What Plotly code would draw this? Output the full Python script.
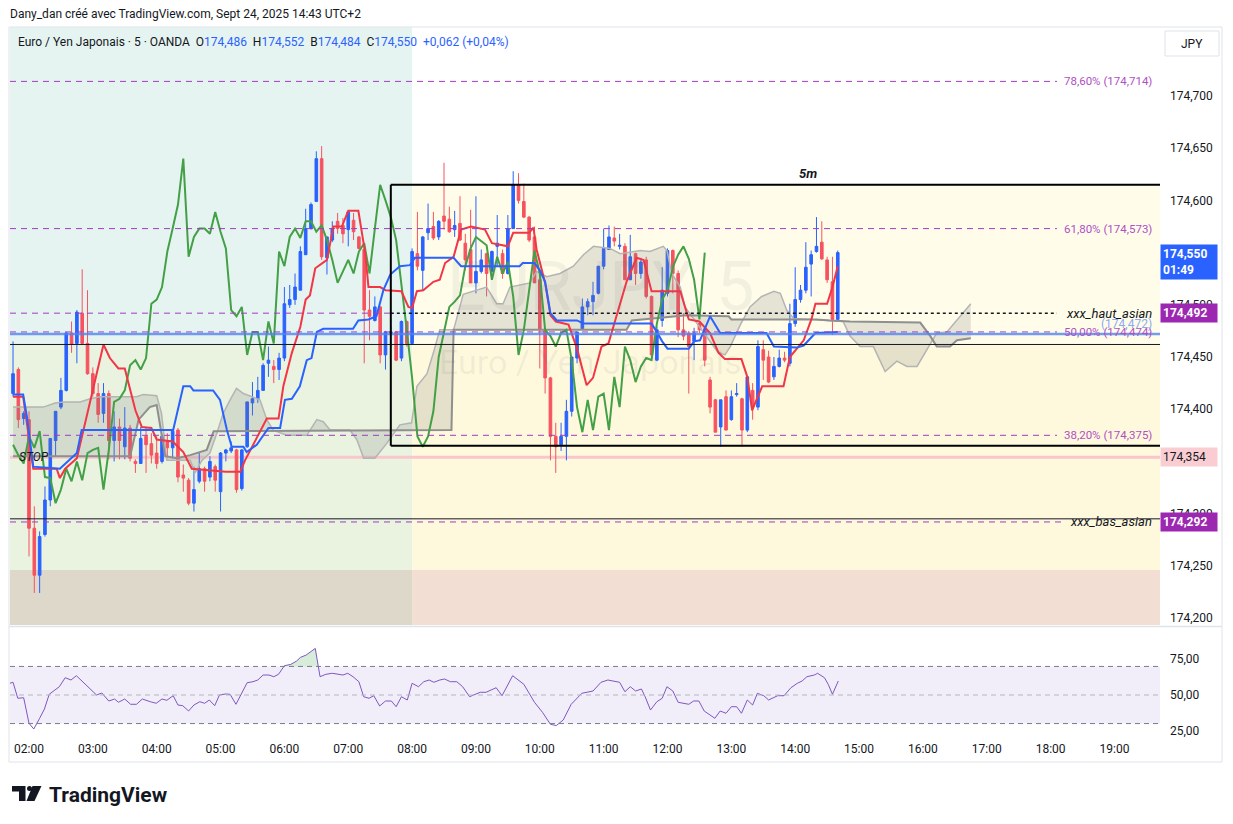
import numpy as np
import pandas as pd
import plotly.graph_objects as go

# EUR/JPY 5 min, OANDA - sept 24 2025
FONT = "Roboto, Noto Sans, sans-serif"
t0 = pd.Timestamp("2025-09-24 01:45")

opens = [174.415, 174.438, 174.391, 174.390, 174.286, 174.241, 174.280, 174.313, 174.370, 174.402,
         174.418, 174.473, 174.463, 174.492, 174.463, 174.434, 174.415, 174.396, 174.415, 174.370,
         174.383, 174.364, 174.382, 174.350, 174.348, 174.374, 174.367, 174.358, 174.350, 174.369,
         174.363, 174.380, 174.337, 174.332, 174.310, 174.331, 174.343, 174.335, 174.345, 174.321,
         174.358, 174.360, 174.361, 174.324, 174.364, 174.406, 174.410, 174.418, 174.444, 174.441,
         174.438, 174.449, 174.500, 174.505, 174.514, 174.548, 174.573, 174.599, 174.640, 174.545,
         174.562, 174.580, 174.576, 174.572, 174.581, 174.565, 174.553, 174.495, 174.485, 174.498,
         174.452, 174.473, 174.474, 174.449, 174.484, 174.463, 174.549, 174.533, 174.569, 174.575,
         174.565, 174.585, 174.582, 174.572, 174.578, 174.559, 174.553, 174.521, 174.532, 174.549,
         174.532, 174.556, 174.549, 174.530, 174.573, 174.615, 174.599, 174.584, 174.565, 174.524,
         174.476, 174.430, 174.374, 174.366, 174.374, 174.398, 174.449, 174.477, 174.498, 174.503,
         174.511, 174.537, 174.553, 174.564, 174.556, 174.556, 174.524, 174.549, 174.530, 174.543,
         174.508, 174.447, 174.485, 174.511, 174.552, 174.530, 174.476, 174.473, 174.465, 174.482,
         174.477, 174.428, 174.409, 174.383, 174.412, 174.390, 174.414, 174.410, 174.380, 174.418,
         174.402, 174.457, 174.450, 174.431, 174.441, 174.449, 174.444, 174.482, 174.505, 174.514,
         174.539, 174.551, 174.560, 174.543, 174.522, 174.486]
highs = [174.465, 174.440, 174.398, 174.398, 174.307, 174.283, 174.326, 174.372, 174.398, 174.430,
         174.474, 174.484, 174.495, 174.534, 174.514, 174.440, 174.425, 174.425, 174.418, 174.398,
         174.391, 174.402, 174.385, 174.352, 174.383, 174.383, 174.377, 174.374, 174.376, 174.377,
         174.380, 174.382, 174.347, 174.334, 174.345, 174.359, 174.345, 174.355, 174.347, 174.359,
         174.362, 174.369, 174.362, 174.362, 174.407, 174.426, 174.431, 174.444, 174.460, 174.447,
         174.454, 174.517, 174.519, 174.530, 174.556, 174.592, 174.598, 174.647, 174.652, 174.565,
         174.580, 174.588, 174.583, 174.589, 174.588, 174.566, 174.554, 174.514, 174.508, 174.499,
         174.475, 174.480, 174.475, 174.485, 174.485, 174.554, 174.589, 174.566, 174.597, 174.589,
         174.581, 174.636, 174.594, 174.590, 174.604, 174.568, 174.591, 174.604, 174.553, 174.550,
         174.552, 174.586, 174.553, 174.586, 174.628, 174.626, 174.616, 174.585, 174.575, 174.530,
         174.477, 174.431, 174.387, 174.387, 174.409, 174.450, 174.474, 174.506, 174.506, 174.522,
         174.537, 174.573, 174.576, 174.575, 174.568, 174.559, 174.567, 174.550, 174.545, 174.546,
         174.509, 174.479, 174.536, 174.554, 174.553, 174.533, 174.492, 174.475, 174.478, 174.484,
         174.479, 174.431, 174.410, 174.409, 174.418, 174.418, 174.425, 174.411, 174.431, 174.425,
         174.466, 174.466, 174.456, 174.450, 174.457, 174.455, 174.501, 174.536, 174.519, 174.560,
         174.552, 174.584, 174.580, 174.546, 174.546, 174.552]
lows = [174.412, 174.382, 174.385, 174.259, 174.224, 174.224, 174.278, 174.307, 174.355, 174.400,
        174.417, 174.454, 174.444, 174.463, 174.433, 174.412, 174.387, 174.387, 174.352, 174.350,
        174.352, 174.352, 174.350, 174.339, 174.348, 174.339, 174.348, 174.343, 174.348, 174.354,
        174.353, 174.330, 174.321, 174.308, 174.302, 174.329, 174.321, 174.331, 174.321, 174.302,
        174.350, 174.358, 174.320, 174.322, 174.363, 174.394, 174.406, 174.418, 174.431, 174.425,
        174.428, 174.446, 174.497, 174.500, 174.514, 174.548, 174.572, 174.599, 174.543, 174.529,
        174.560, 174.568, 174.559, 174.556, 174.562, 174.553, 174.444, 174.466, 174.484, 174.444,
        174.438, 174.460, 174.446, 174.446, 174.460, 174.462, 174.533, 174.514, 174.562, 174.562,
        174.562, 174.572, 174.569, 174.565, 174.561, 174.533, 174.521, 174.511, 174.530, 174.508,
        174.530, 174.537, 174.525, 174.529, 174.573, 174.597, 174.583, 174.560, 174.521, 174.439,
        174.415, 174.351, 174.339, 174.360, 174.351, 174.393, 174.444, 174.476, 174.490, 174.490,
        174.510, 174.534, 174.553, 174.556, 174.553, 174.524, 174.524, 174.519, 174.525, 174.506,
        174.450, 174.446, 174.479, 174.508, 174.511, 174.469, 174.466, 174.415, 174.447, 174.473,
        174.441, 174.396, 174.378, 174.364, 174.380, 174.389, 174.412, 174.364, 174.378, 174.390,
        174.399, 174.428, 174.425, 174.428, 174.440, 174.445, 174.441, 174.479, 174.502, 174.511,
        174.508, 174.550, 174.543, 174.521, 174.471, 174.484]
closes = [174.434, 174.390, 174.396, 174.286, 174.241, 174.278, 174.313, 174.372, 174.398, 174.418,
          174.473, 174.462, 174.493, 174.463, 174.434, 174.415, 174.395, 174.415, 174.370, 174.383,
          174.370, 174.382, 174.353, 174.348, 174.372, 174.366, 174.356, 174.348, 174.374, 174.363,
          174.379, 174.335, 174.334, 174.310, 174.323, 174.343, 174.331, 174.350, 174.332, 174.358,
          174.361, 174.363, 174.323, 174.361, 174.407, 174.410, 174.418, 174.442, 174.447, 174.438,
          174.449, 174.501, 174.505, 174.517, 174.551, 174.573, 174.596, 174.640, 174.546, 174.565,
          174.573, 174.573, 174.568, 174.589, 174.570, 174.554, 174.495, 174.489, 174.498, 174.452,
          174.474, 174.474, 174.447, 174.484, 174.463, 174.551, 174.537, 174.565, 174.573, 174.564,
          174.580, 174.580, 174.570, 174.576, 174.562, 174.543, 174.521, 174.532, 174.543, 174.530,
          174.551, 174.559, 174.530, 174.573, 174.615, 174.600, 174.584, 174.562, 174.521, 174.476,
          174.430, 174.374, 174.364, 174.374, 174.398, 174.450, 174.474, 174.498, 174.503, 174.509,
          174.537, 174.554, 174.565, 174.561, 174.557, 174.524, 174.546, 174.530, 174.541, 174.508,
          174.452, 174.476, 174.514, 174.552, 174.530, 174.476, 174.470, 174.460, 174.473, 174.476,
          174.447, 174.402, 174.378, 174.409, 174.380, 174.412, 174.415, 174.380, 174.431, 174.402,
          174.460, 174.447, 174.426, 174.441, 174.449, 174.447, 174.482, 174.505, 174.514, 174.536,
          174.548, 174.556, 174.544, 174.524, 174.486, 174.550]

# ichimoku lines: (bar index, price)
tenkan = [(0, 174.412), (1.9, 174.412), (3.8, 174.343), (8.2, 174.343), (8.8, 174.334), (9.8, 174.343),
          (12, 174.353), (13.8, 174.393), (15.7, 174.434), (17, 174.462), (18.2, 174.449), (19.8, 174.439),
          (21, 174.439), (23, 174.399), (24.2, 174.383), (26, 174.382), (27, 174.371), (30, 174.369),
          (32, 174.359), (33.6, 174.343), (40, 174.340), (42.7, 174.340), (43.6, 174.351), (47.7, 174.391),
          (49.9, 174.391), (50.8, 174.422), (52.4, 174.454), (54, 174.479), (55, 174.505), (55.8, 174.509),
          (56.8, 174.535), (59, 174.543), (60.2, 174.575), (61.8, 174.575), (63, 174.590), (64.9, 174.590),
          (66.2, 174.549), (66.8, 174.517), (69, 174.517), (70, 174.514), (73, 174.513), (74.3, 174.498),
          (75, 174.497), (75.9, 174.513), (77.1, 174.514), (79, 174.522), (80.2, 174.524), (81.2, 174.540),
          (82.8, 174.546), (84.2, 174.572), (86.1, 174.575), (88.7, 174.572), (90, 174.559), (93, 174.556),
          (94, 174.569), (97, 174.569), (97.8, 174.574), (98.4, 174.553), (100, 174.521), (101, 174.490),
          (102, 174.484), (104.4, 174.481), (106, 174.458), (107.8, 174.423), (109, 174.430), (110.6, 174.460),
          (111.9, 174.463), (113.5, 174.490), (115.3, 174.522), (117.2, 174.545), (118.5, 174.543),
          (120, 174.513), (125.4, 174.513), (127, 174.486), (129, 174.484), (131, 174.473), (132.6, 174.454),
          (133.8, 174.448), (136.9, 174.448), (138, 174.431), (138.9, 174.399), (139.8, 174.410),
          (140.8, 174.422), (144.8, 174.422), (146, 174.450), (148.6, 174.466), (150.1, 174.487),
          (150.8, 174.501), (153, 174.501), (154, 174.517), (155, 174.537)]
kijun = [(0, 174.414), (1.9, 174.414), (2.6, 174.393), (3.8, 174.345), (8.8, 174.343), (10.4, 174.351),
         (12, 174.358), (12.9, 174.380), (30.1, 174.380), (32, 174.422), (33.3, 174.422), (33.9, 174.418),
         (37.6, 174.418), (38.9, 174.409), (40.2, 174.380), (41.1, 174.364), (43.3, 174.364), (43.9, 174.359),
         (45.8, 174.366), (48, 174.382), (50.2, 174.382), (51.1, 174.409), (52.4, 174.410), (53.9, 174.422),
         (55.2, 174.447), (56.1, 174.449), (57.1, 174.474), (58.3, 174.477), (63.9, 174.477), (64.9, 174.485),
         (66.8, 174.486), (68.3, 174.489), (69.6, 174.514), (70.9, 174.529), (72.7, 174.537), (74.6, 174.538),
         (75.5, 174.545), (82.8, 174.545), (84.2, 174.537), (95.2, 174.537), (95.8, 174.540), (98, 174.540),
         (99, 174.533), (100, 174.522), (101, 174.492), (102.2, 174.485), (106, 174.485), (107.2, 174.482),
         (120, 174.482), (121, 174.474), (122, 174.465), (123, 174.458), (127, 174.458), (128, 174.465),
         (129.1, 174.466), (131, 174.489), (132.9, 174.473), (141.6, 174.473), (143, 174.460),
         (147.3, 174.459), (148.6, 174.461), (150.8, 174.473), (155, 174.474)]
span_a = [(0, 174.402), (5.7, 174.402), (7.9, 174.406), (9.5, 174.407), (12.6, 174.407), (14.5, 174.410),
          (16.3, 174.412), (23.2, 174.412), (24.5, 174.414), (27, 174.413), (27.9, 174.396), (28.9, 174.351),
          (33.3, 174.351), (34.2, 174.339), (35.5, 174.351), (37, 174.358), (38.3, 174.377), (39.5, 174.396),
          (40.8, 174.409), (42, 174.420), (43.3, 174.415), (46.4, 174.409), (47.7, 174.390), (48.9, 174.380),
          (51.4, 174.375), (55.2, 174.375), (57.1, 174.390), (58.3, 174.388), (59.6, 174.380), (63.3, 174.380),
          (64.6, 174.371), (65.9, 174.353), (68, 174.353), (70.2, 174.367), (72.7, 174.385), (74.9, 174.387),
          (75.9, 174.422), (77.8, 174.434), (79, 174.454), (80.2, 174.476), (82.8, 174.476), (84.6, 174.510),
          (89, 174.517), (90.9, 174.501), (92.1, 174.501), (93.4, 174.517), (97.1, 174.521), (98.4, 174.532),
          (100.3, 174.527), (102.8, 174.530), (105.3, 174.537), (107.2, 174.548), (109.1, 174.556),
          (112.2, 174.554), (114.1, 174.549), (117.9, 174.552), (119.7, 174.551), (122.2, 174.556),
          (122.9, 174.552), (123.8, 174.530), (125.4, 174.517), (126.3, 174.498), (127, 174.493),
          (130.4, 174.469), (132.4, 174.455), (133.8, 174.452), (134.8, 174.460), (136.7, 174.481),
          (138.5, 174.498), (140.7, 174.508), (143, 174.513), (144.2, 174.511), (145.4, 174.495),
          (146.7, 174.487), (149.8, 174.486), (153.6, 174.485), (156, 174.484), (157.3, 174.470),
          (159.2, 174.460), (161.7, 174.460), (163.9, 174.436), (166.1, 174.446), (168, 174.441),
          (169.9, 174.441), (172.4, 174.463), (173.6, 174.473), (175.5, 174.474), (178, 174.489), (180, 174.501)]
span_b = [(0, 174.355), (22, 174.355), (23.6, 174.390), (25.7, 174.402), (27, 174.404), (27.8, 174.380),
          (28.6, 174.355), (30.8, 174.353), (33.3, 174.356), (36.4, 174.361), (37.7, 174.379), (82.4, 174.380),
          (82.8, 174.476), (115.3, 174.476), (116.3, 174.485), (126.6, 174.490), (134.5, 174.489),
          (135, 174.486), (151, 174.486), (153.6, 174.485), (157.3, 174.484), (170.5, 174.483),
          (172.4, 174.470), (173.6, 174.460), (176.1, 174.460), (177.4, 174.466), (180, 174.468)]
chikou_shift = 25

rsi = [(-0.6, 58.2), (0, 58.9), (0.9, 47.7), (2.0, 48.1), (3.0, 30.2), (3.9, 26.2), (5.0, 33.7), (5.9, 40.2),
       (6.8, 50.5), (8.7, 55.8), (9.8, 62.1), (10.9, 60.5), (11.9, 63.5), (13.2, 58.9), (14.3, 54.7),
       (15.7, 50), (16.7, 51.4), (18, 45.8), (19.1, 47.2), (19.8, 44.9), (21, 47.2), (22.1, 43.5),
       (23.2, 43.5), (24.3, 47.2), (25.8, 45.3), (26.9, 44.2), (28, 47.2), (28.9, 46.3), (30.1, 49.5),
       (31, 43), (31.9, 42.5), (33, 38.8), (34, 43), (35.1, 45.3), (36, 44.2), (36.9, 46.5), (37.9, 42.5),
       (38.8, 50), (39.9, 50.7), (40.8, 50.5), (41.9, 43.5), (42.9, 51.2), (44, 58.6), (45.1, 59.3),
       (46, 60.5), (47, 64), (48.1, 64), (49, 62.8), (49.9, 64.5), (51, 70.5), (52.2, 71.4), (53.3, 73.8),
       (54, 76.3), (55.1, 78), (56.2, 80.8), (56.8, 82.6), (57.7, 62.8), (58.8, 64.5), (60, 65.2),
       (61.1, 64.5), (62, 64), (62.9, 65.2), (63.9, 62.8), (65, 59.3), (65.9, 48.8), (66.9, 47.7),
       (67.8, 49.5), (68.9, 42.3), (70, 45.8), (71.1, 45.8), (72, 41.8), (73, 48.8), (74.1, 46.5),
       (75, 58.2), (76.2, 55.8), (77.2, 59.3), (78.2, 60.5), (79.1, 58.9), (80.2, 60.5), (81.1, 61.2),
       (82.2, 59.3), (83.4, 59.3), (84.5, 55.8), (85.8, 48.8), (86.7, 50), (87.8, 51.9), (88.9, 51.9),
       (90.8, 55.1), (91.9, 49.5), (93.9, 63.5), (96, 57.5), (98, 44.9), (99.5, 37.9), (101, 29.5),
       (102.1, 28.6), (103.4, 32.5), (104.9, 43.5), (106.9, 51.2), (109, 52.8), (110.5, 58.9),
       (111.8, 60.5), (114, 58.9), (115, 52.3), (116, 55.8), (117, 52.8), (118.1, 54.2), (118.8, 48.8),
       (119.8, 39.5), (121, 45.3), (122, 47.7), (122.9, 55.8), (124, 52.8), (125, 44.9), (126.3, 44.2),
       (127, 43.5), (127.9, 45.8), (128.9, 45.8), (129.9, 38.8), (130.8, 36.5), (131.9, 33.7),
       (132.9, 38.8), (134, 37.2), (135, 41.8), (136, 41.8), (136.9, 37.2), (138, 46.5), (139, 43),
       (139.9, 51.2), (141.1, 49.5), (142, 46.5), (143.7, 49.5), (144.9, 49.5), (146.2, 55.1),
       (147.4, 58.2), (148.3, 59.8), (149.2, 62.8), (150.6, 64), (151.2, 65.2), (152.5, 62.1),
       (153.2, 57.5), (154, 50.5), (155.1, 59.8)]

fib_levels = [174.714, 174.573, 174.474, 174.375]
fib_names = ["78,60%", "61,80%", "50,00%", "38,20%"]
haut_asian = 174.492
bas_asian = 174.292
asia_line = 174.462
bas_line = 174.295
blue_level = 174.472
stop_level = 174.354
zone_bottom = 174.246
box_top, box_bottom = 174.615, 174.365

X0 = pd.Timestamp("2025-09-24 01:42:09")
X1 = pd.Timestamp("2025-09-24 19:42:48")
Y0, Y1 = 174.1933, 174.7661
t_box = pd.Timestamp("2025-09-24 07:40")
t_zone = pd.Timestamp("2025-09-24 08:00")
t_lab = pd.Timestamp("2025-09-24 18:06")

# page body has an 8px margin: the plot area should land at x 10..1160, y 27..740 on screen
OFF = 8
FIG_W, FIG_H = 1217, 808


def bt(ks):
    return t0 + pd.to_timedelta(np.asarray(ks, dtype=float) * 5, unit="min")


def px_x(px):
    return (px - 10) / 1150


def px_y(py):
    return (740 - py) / 713


times = bt(np.arange(len(closes)))

fig = go.Figure()

# cloud
ka, pa = zip(*span_a)
kb, pb = zip(*span_b)
fig.add_trace(go.Scatter(x=list(bt(ka)) + list(bt(kb))[::-1], y=list(pa) + list(pb)[::-1],
                         fill="toself", fillcolor="rgba(125,125,125,0.2)", line=dict(width=0),
                         mode="lines", hoverinfo="skip", showlegend=False))
fig.add_trace(go.Scatter(x=bt(ka), y=pa, mode="lines", line=dict(color="#B4B4B4", width=1.5),
                         hoverinfo="skip", showlegend=False))
fig.add_trace(go.Scatter(x=bt(kb), y=pb, mode="lines", line=dict(color="#8F8F8F", width=2),
                         hoverinfo="skip", showlegend=False))

fig.add_trace(go.Candlestick(x=times, open=opens, high=highs, low=lows, close=closes,
                             increasing=dict(line=dict(color="#2962FF", width=1), fillcolor="#2962FF"),
                             decreasing=dict(line=dict(color="#F7525F", width=1), fillcolor="#F7525F"),
                             whiskerwidth=0, hoverinfo="skip", showlegend=False))

# chikou, tenkan, kijun
fig.add_trace(go.Scatter(x=bt(np.arange(chikou_shift, len(closes)) - chikou_shift), y=closes[chikou_shift:],
                         mode="lines", line=dict(color="#43A047", width=2), hoverinfo="skip", showlegend=False))
kt, pt = zip(*tenkan)
fig.add_trace(go.Scatter(x=bt(kt), y=pt, mode="lines", line=dict(color="#F23645", width=2),
                         hoverinfo="skip", showlegend=False))
kk, pk = zip(*kijun)
fig.add_trace(go.Scatter(x=bt(kk), y=pk, mode="lines", line=dict(color="#2962FF", width=2),
                         hoverinfo="skip", showlegend=False))

# rsi
kr, vr = zip(*rsi)
ob_k, ob_v = [], []
for i in range(len(kr) - 1):
    if vr[i] >= 70:
        ob_k.append(kr[i]); ob_v.append(vr[i])
    if (vr[i] - 70) * (vr[i + 1] - 70) < 0:
        ob_k.append(kr[i] + (70 - vr[i]) / (vr[i + 1] - vr[i]) * (kr[i + 1] - kr[i])); ob_v.append(70)
fig.add_trace(go.Scatter(x=bt(ob_k), y=ob_v, fill="toself", fillcolor="rgba(76,175,80,0.22)",
                         line=dict(width=0), mode="lines", yaxis="y2", hoverinfo="skip", showlegend=False))
fig.add_trace(go.Scatter(x=bt(kr), y=vr, mode="lines", line=dict(color="#7E57C2", width=1),
                         yaxis="y2", hoverinfo="skip", showlegend=False))

shapes = []
def rect(x0, x1, y0, y1, color, yref="y"):
    shapes.append(dict(type="rect", xref="x", yref=yref, x0=x0, x1=x1, y0=y0, y1=y1,
                       fillcolor=color, line=dict(width=0), layer="below"))

def hline(y, x0, x1, color, width=1, dash="solid", yref="y", layer="above"):
    shapes.append(dict(type="line", xref="x", yref=yref, x0=x0, x1=x1, y0=y, y1=y,
                       line=dict(color=color, width=width, dash=dash), layer=layer))

rect(X0, t_zone, asia_line, Y1, "#E6F4F1")
rect(X0, t_zone, zone_bottom, asia_line, "#E9F3E0")
rect(X0, t_zone, Y0, zone_bottom, "#DED8CA")
rect(t_zone, X1, asia_line, box_top, "#FFFDEA")
rect(t_zone, X1, zone_bottom, asia_line, "#FEF9DD")
rect(t_zone, X1, Y0, zone_bottom, "#F2DED2")
rect(X0, X1, 30, 70, "rgba(126,87,194,0.1)", yref="y2")

FIB = "#A13BBF"
for lv in fib_levels:
    hline(lv, X0, t_lab, FIB, 1, "6px,5px")
hline(haut_asian, X0, t_box, FIB, 1, "6px,5px")
hline(haut_asian, t_box, t_lab, "#131722", 1.5, "dot")
hline(bas_asian, X0, pd.Timestamp("2025-09-24 18:12"), FIB, 1, "6px,5px")
hline(asia_line, X0, X1, "#131722", 1)
hline(bas_line, X0, X1, "#131722", 1)
hline(blue_level, X0, X1, "rgba(80,130,240,0.8)", 2.5)
hline(stop_level, X0, X1, "#F8C6CB", 3, layer="below")
for lv, col in [(70, "#787B86"), (50, "#B2B5BE"), (30, "#787B86")]:
    hline(lv, X0, X1, col, 1, "5px,4px", yref="y2")

# 5m box
hline(box_top, t_box, X1, "#000000", 2)
hline(box_bottom, t_box, X1, "#000000", 2)
shapes.append(dict(type="line", xref="x", yref="y", x0=t_box, x1=t_box, y0=box_bottom, y1=box_top,
                   line=dict(color="#000000", width=2)))

# frame, pane separator, JPY button, logo
shapes.append(dict(type="rect", xref="paper", yref="paper", x0=px_x(9), x1=px_x(1222), y0=px_y(762), y1=px_y(27),
                   line=dict(color="#E0E3EB", width=1), fillcolor="rgba(0,0,0,0)"))
shapes.append(dict(type="line", xref="paper", yref="paper", x0=px_x(9), x1=px_x(1222), y0=px_y(626.5), y1=px_y(626.5),
                   line=dict(color="#E0E3EB", width=1.5)))
shapes.append(dict(type="rect", xref="paper", yref="paper", x0=px_x(1165), x1=px_x(1219), y0=px_y(56), y1=px_y(31),
                   line=dict(color="#E0E3EB", width=1), fillcolor="white"))
logo = [[(12, 786), (25.5, 786), (25.5, 801), (19, 801), (19, 791.5), (12, 791.5)],
        [(32.5, 786), (41.5, 786), (34.5, 801), (26.5, 801)]]
for poly in logo:
    path = "M " + " L ".join(f"{px_x(a):.5f},{px_y(b):.5f}" for a, b in poly) + " Z"
    shapes.append(dict(type="path", xref="paper", yref="paper", path=path, fillcolor="#131722", line=dict(width=0)))
shapes.append(dict(type="circle", xref="paper", yref="paper", x0=px_x(27), x1=px_x(32), y0=px_y(791), y1=px_y(786),
                   fillcolor="#131722", line=dict(width=0)))

ann = []
def text(x, y, s, size=12, color="#131722", xanchor="left", yanchor="middle", xref="paper", yref="paper", **kw):
    ann.append(dict(x=x, y=y, text=s, xref=xref, yref=yref, xanchor=xanchor, yanchor=yanchor, showarrow=False,
                    font=dict(family=FONT, size=size, color=color), **kw))

# watermark
text(px_x(600), 174.517, "EURJPY, 5", size=68, color="rgba(110,110,110,0.09)", xanchor="center", yref="y")
text(px_x(590), 174.445, "Euro / Yen Japonais", size=34, color="rgba(110,110,110,0.09)", xanchor="center", yref="y")

text(px_x(8), px_y(14.5), "Dany_dan créé avec TradingView.com, Sept 24, 2025 14:43 UTC+2", size=12)
blue = "#2962FF"
legend = ("Euro / Yen Japonais · 5 · OANDA  "
          f"O<span style='color:{blue}'>174,486</span>  H<span style='color:{blue}'>174,552</span>  "
          f"B<span style='color:{blue}'>174,484</span>  C<span style='color:{blue}'>174,550</span>  "
          f"<span style='color:{blue}'>+0,062 (+0,04%)</span>")
text(px_x(16), px_y(42), legend, size=12)
text(px_x(1192), px_y(44), "JPY", size=12, xanchor="center")

for lv, nm in zip(fib_levels, fib_names):
    text(px_x(1154), lv, f"{nm} ({lv:.3f})".replace(".", ","), size=11.5, color="#B050C4",
         xanchor="right", yref="y")
text(px_x(1154), haut_asian, "<i>xxx_haut_asian</i>", size=13, xanchor="right", yref="y")
text(px_x(1154), bas_asian, "<i>xxx_bas_asian</i>", size=13, xanchor="right", yref="y")
text(px_x(1154), blue_level, f"({blue_level:.3f})".replace(".", ","), size=12, color="#8DAAF2",
     xanchor="right", yanchor="bottom", yref="y", yshift=1)
text(pd.Timestamp("2025-09-24 01:49"), stop_level, "<i>STOP</i>", size=12, xref="x", yref="y")
text(pd.Timestamp("2025-09-24 14:12"), box_top, "<b><i>5m</i></b>", size=13, xanchor="center",
     yanchor="bottom", xref="x", yref="y", yshift=2)

# price tags on the scale
def tag(y, s, bg, fg="white", yanchor="middle", yshift=0):
    ann.append(dict(x=1, y=y, xref="paper", yref="y", xanchor="left", yanchor=yanchor, yshift=yshift,
                    text=s, showarrow=False, bgcolor=bg, width=52, align="left", borderpad=2,
                    font=dict(family=FONT, size=12, color=fg)))

tag(closes[-1], f"<b>{closes[-1]:.3f}</b><br><b>01:49</b>".replace(".", ","), "#2962FF",
    yanchor="top", yshift=9)
tag(haut_asian, f"<b>{haut_asian:.3f}</b>".replace(".", ","), "#9C27B0")
tag(stop_level, f"{stop_level:.3f}".replace(".", ","), "#F9CDD1", fg="#131722")
tag(bas_asian, f"<b>{bas_asian:.3f}</b>".replace(".", ","), "#9C27B0")

text(px_x(47), px_y(795), "<b>TradingView</b>", size=21)

fig.update_layout(
    width=FIG_W, height=FIG_H,
    margin=dict(l=10 - OFF, r=FIG_W - (1160 - OFF), t=27 - OFF, b=FIG_H - (740 - OFF)),
    paper_bgcolor="white", plot_bgcolor="white",
    separators=",.",
    showlegend=False,
    shapes=shapes,
    annotations=ann,
    font=dict(family=FONT, size=12, color="#131722"),
    xaxis=dict(type="date", range=[X0, X1], anchor="y2", showgrid=False, zeroline=False,
               rangeslider=dict(visible=False), tickformat="%H:%M", dtick=3600000,
               tick0="2025-09-24 02:00", ticks="", tickfont=dict(size=12, color="#131722"), showline=False),
    yaxis=dict(domain=[px_y(625), 1], range=[Y0, Y1], side="right", showgrid=False, zeroline=False,
               tickvals=[174.2, 174.25, 174.3, 174.4, 174.45, 174.5, 174.6, 174.65, 174.7],
               tickformat=".3f", ticks="", ticklabelstandoff=9, tickfont=dict(size=12, color="#131722")),
    yaxis2=dict(domain=[0, px_y(628)], range=[18.5, 96.9], side="right", showgrid=False, zeroline=False,
                tickvals=[25, 50, 75], tickformat=".2f", ticks="", ticklabelstandoff=9,
                tickfont=dict(size=12, color="#131722")),
)

fig.write_html("out.html")
